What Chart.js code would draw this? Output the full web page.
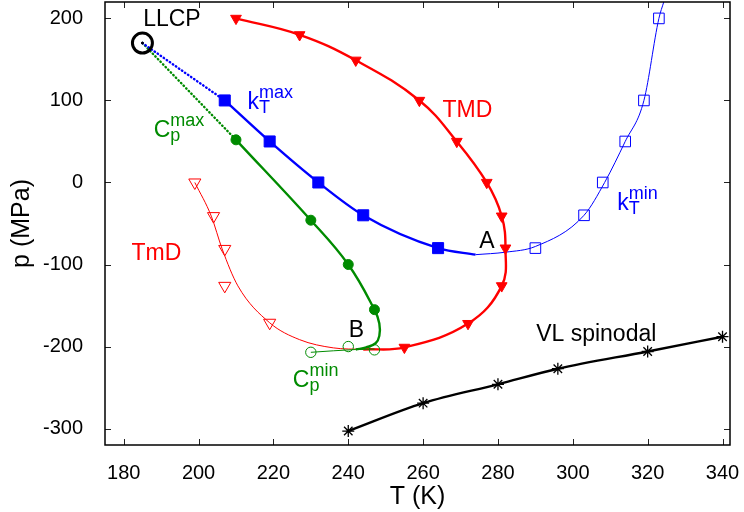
<!DOCTYPE html>
<html>
<head>
<meta charset="utf-8">
<script src="https://cdn.jsdelivr.net/npm/chart.js@4"></script>
<style>
  body { margin: 0; background: #fff; }
</style>
</head>
<body>
<canvas id="phaseChart" width="744" height="512"></canvas>
<script>
// p-T phase diagram: LLCP, TMD / TmD, kT and Cp extrema, VL spinodal
const xTicks = [180, 200, 220, 240, 260, 280, 300, 320, 340];
const yTicks = [-300, -200, -100, 0, 100, 200];

// measured points (markers)
const llcpT = [185];
const llcpP = [170];
const kTmaxT = [207, 219, 232, 244, 264];
const kTmaxP = [100, 50, 0, -40, -80];
const kTminT = [290, 303, 308, 314, 319, 323];
const kTminP = [-80, -40, 0, 50, 100, 200];
const cpMaxT = [210, 230, 240, 247];
const cpMaxP = [52, -46, -100, -155];
const cpMinT = [230, 240, 247];
const cpMinP = [-207, -200, -204];
const tmdT = [210, 227, 242, 259, 269, 277, 281, 282, 281, 272, 255];
const tmdP = [200, 180, 149, 100, 50, 0, -41, -80, -126, -172, -201];
const tmdLowT = [199, 204, 207, 207, 219];
const tmdLowP = [0, -41, -81, -126, -171];
const vlT = [240, 260, 280, 296, 320, 340];
const vlP = [-303, -269, -246, -227, -206, -188];

// fitted lines
const kTfitT = [207, 219, 232, 244, 264, 274];
const kTfitP = [100, 50, 0, -40, -80, -88];
const kTthinT = [274, 282, 290, 303, 308.5, 314, 319, 323, 324.3];
const kTthinP = [-88, -85, -78, -40, 0, 50, 100, 200, 220];
const cpMaxFitT = [210, 230, 240, 247, 248.3, 248.3, 247.3, 244.8, 242];
const cpMaxFitP = [52, -46, -100, -155, -172, -187, -196, -201, -203.6];
const cpMinFitT = [230, 242, 247];
const cpMinFitP = [-207, -203.6, -203];
const tmdFitT = tmdT.concat([244]);
const tmdFitP = tmdP.concat([-203.5]);
const tmdLowFitT = [199, 203.4, 206.3, 210.5, 219, 227, 236, 244];
const tmdLowFitP = [0, -41, -81, -126, -171, -191.6, -201.6, -203.5];

const RED = '#ff0000', BLUE = '#0000ff', GREEN = '#008b00', BLACK = '#000000';
const FONT = '"Liberation Sans", Arial, sans-serif';

function pts(xs, ys) {
  return xs.map((x, i) => ({ x: x, y: ys[i] }));
}

function markers(data, color, style, radius, filled, extra) {
  return Object.assign({
    data: data,
    showLine: false,
    pointStyle: style,
    pointRadius: radius,
    pointBorderColor: color,
    pointBackgroundColor: filled ? color : 'rgba(0,0,0,0)',
    pointBorderWidth: 1
  }, extra || {});
}

function curve(data, color, width, extra) {
  return Object.assign({
    data: data,
    showLine: true,
    borderColor: color,
    borderWidth: width,
    pointRadius: 0,
    fill: false,
    cubicInterpolationMode: 'monotone'
  }, extra || {});
}

const labels = [
  { text: 'LLCP', T: 185.2, p: 190.7, color: BLACK },
  { text: 'TMD', T: 265.2, p: 79.6, color: RED },
  { text: 'TmD', T: 182.1, p: -94.1, color: RED },
  { text: 'A', T: 275.0, p: -79.9, color: BLACK },
  { text: 'B', T: 240.1, p: -188.2, color: BLACK },
  { text: 'VL spinodal', T: 290.2, p: -193.5, color: BLACK },
  { text: 'k', sub: 'T', sup: 'max', T: 213.1, p: 89.3, color: BLUE },
  { text: 'k', sub: 'T', sup: 'min', T: 311.9, p: -33.2, color: BLUE },
  { text: 'C', sub: 'p', sup: 'max', T: 188.0, p: 55.7, color: GREEN },
  { text: 'C', sub: 'p', sup: 'min', T: 225.2, p: -248.7, color: GREEN }
];

const framePlugin = {
  id: 'frame',
  afterDatasetsDraw(chart) {
    const { ctx, scales: { x, y } } = chart;
    ctx.save();
    ctx.textBaseline = 'alphabetic';
    ctx.textAlign = 'left';
    labels.forEach(l => {
      const px = x.getPixelForValue(l.T);
      const py = y.getPixelForValue(l.p);
      ctx.fillStyle = l.color;
      ctx.font = '23px ' + FONT;
      ctx.fillText(l.text, px, py);
      if (l.sub || l.sup) {
        const w = ctx.measureText(l.text).width;
        ctx.font = '18px ' + FONT;
        if (l.sub) ctx.fillText(l.sub, px + w, py + 4);
        if (l.sup) ctx.fillText(l.sup, px + w, py - 11);
      }
    });
    ctx.restore();
  },
  afterDraw(chart) {
    const { ctx, chartArea: a, scales: { x, y } } = chart;
    ctx.save();
    ctx.strokeStyle = '#222';
    ctx.lineWidth = 1;
    ctx.beginPath();
    xTicks.forEach(v => {
      const px = Math.round(x.getPixelForValue(v)) + 0.5;
      ctx.moveTo(px, a.bottom); ctx.lineTo(px, a.bottom - 6);
      ctx.moveTo(px, a.top); ctx.lineTo(px, a.top + 6);
    });
    yTicks.forEach(v => {
      const py = Math.round(y.getPixelForValue(v)) + 0.5;
      ctx.moveTo(a.left, py); ctx.lineTo(a.left + 6, py);
      ctx.moveTo(a.right, py); ctx.lineTo(a.right - 6, py);
    });
    ctx.stroke();
    ctx.strokeStyle = BLACK;
    ctx.lineWidth = 1.5;
    ctx.strokeRect(a.left, a.top, a.right - a.left, a.bottom - a.top);
    ctx.restore();
  }
};

const llcp = pts(llcpT, llcpP);
const dots = { borderDash: [0.5, 3.2], borderCapStyle: 'round', cubicInterpolationMode: 'default', tension: 0 };

const ctx = document.getElementById('phaseChart').getContext('2d');
const phaseChart = new Chart(ctx, {
  type: 'scatter',
  data: {
    datasets: [
      markers(llcp, BLACK, 'circle', 10, false, { pointBorderWidth: 3 }),
      markers(llcp, BLACK, 'circle', 1, true),
      markers(pts(kTmaxT, kTmaxP), BLUE, 'rect', 7.8, true),
      markers(pts(kTminT, kTminP), BLUE, 'rect', 7.5, false),
      markers(pts(cpMaxT, cpMaxP), GREEN, 'circle', 5, true),
      markers(pts(cpMinT, cpMinP), GREEN, 'circle', 5.2, false),
      markers(pts(tmdT, tmdP), RED, 'triangle', 6.2, true, { pointRotation: 180 }),
      markers(pts(tmdLowT, tmdLowP), RED, 'triangle', 7, false, { pointRotation: 180 }),
      markers(pts(vlT, vlP), BLACK, 'star', 6, false, { pointBorderWidth: 1.3 }),
      curve(llcp.concat(pts([kTmaxT[0]], [kTmaxP[0]])), BLUE, 2.4, dots),
      curve(llcp.concat(pts([cpMaxT[0]], [cpMaxP[0]])), GREEN, 2.4, dots),
      curve(pts(kTfitT, kTfitP), BLUE, 2.4),
      curve(pts(kTthinT, kTthinP), BLUE, 1),
      curve(pts(cpMaxFitT, cpMaxFitP), GREEN, 2.4, { cubicInterpolationMode: 'default', tension: 0.4 }),
      curve(pts(cpMinFitT, cpMinFitP), GREEN, 1),
      curve(pts(tmdFitT, tmdFitP), RED, 2.4, { cubicInterpolationMode: 'default', tension: 0.4 }),
      curve(pts(tmdLowFitT, tmdLowFitP), RED, 1),
      curve(pts(vlT, vlP), BLACK, 2.4)
    ]
  },
  options: {
    responsive: false,
    animation: false,
    layout: { autoPadding: false, padding: { top: 2, right: 14, left: 0, bottom: 0 } },
    plugins: { legend: { display: false }, tooltip: { enabled: false } },
    scales: {
      x: {
        type: 'linear',
        min: 175,
        max: 342,
        afterBuildTicks: s => { s.ticks = xTicks.map(v => ({ value: v })); },
        afterFit: s => { s.height = 67; s.paddingLeft = 0; s.paddingRight = 0; },
        grid: { display: false },
        border: { display: false },
        ticks: { color: BLACK, padding: 8, font: { size: 20, family: FONT } },
        title: { display: true, text: 'T (K)', color: BLACK, padding: { top: 0, bottom: 0 }, font: { size: 25, family: FONT } }
      },
      y: {
        type: 'linear',
        min: -320,
        max: 220,
        afterBuildTicks: s => { s.ticks = yTicks.map(v => ({ value: v })); },
        afterFit: s => { s.width = 105; s.paddingTop = 0; s.paddingBottom = 0; },
        grid: { display: false },
        border: { display: false },
        ticks: { color: BLACK, padding: 14, font: { size: 20, family: FONT } },
        title: { display: true, text: 'p (MPa)', color: BLACK, padding: { top: 7, bottom: 0 }, font: { size: 25, family: FONT } }
      }
    }
  },
  plugins: [framePlugin]
});
</script>
</body>
</html>
